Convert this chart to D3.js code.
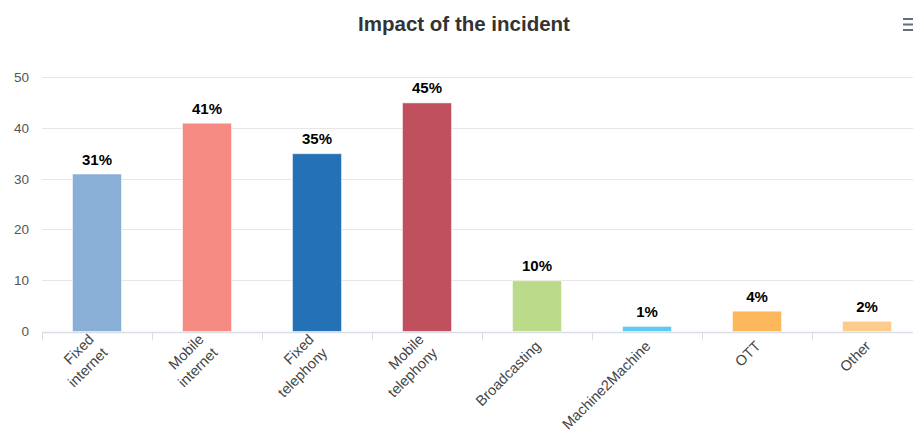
<!DOCTYPE html>
<html>
<head>
<meta charset="utf-8">
<script src="https://cdn.jsdelivr.net/npm/d3@7"></script>
<style>
  body { margin: 0; background: #fff; }
  svg { display: block; font-family: "Liberation Sans", Arial, sans-serif; }
</style>
</head>
<body>
<div id="chart"></div>
<script>
// data
var categories = ["Fixed internet", "Mobile internet", "Fixed telephony", "Mobile telephony",
                  "Broadcasting", "Machine2Machine", "OTT", "Other"];
var labelLines = [["Fixed", "internet"], ["Mobile", "internet"], ["Fixed", "telephony"], ["Mobile", "telephony"],
                  ["Broadcasting"], ["Machine2Machine"], ["OTT"], ["Other"]];
var values = [31, 41, 35, 45, 10, 1, 4, 2];
var barColors = ["#8aafd6", "#f58b82", "#2472b5", "#c1505f", "#bcdb8a", "#5dcaf0", "#fdb85c", "#fecb8c"];
var yTicks = [0, 10, 20, 30, 40, 50];

var width = 913, height = 432;
var margin = {top: 77, left: 42, bottom: 101};

var svg = d3.select("#chart").append("svg")
    .attr("width", width)
    .attr("height", height);

// plot runs past the right edge like the original (cut off)
var x = d3.scaleBand()
    .domain(categories)
    .range([margin.left, margin.left + 110 * categories.length])
    .paddingInner(0)
    .paddingOuter(0);

var y = d3.scaleLinear()
    .domain([0, 50])
    .range([height - margin.bottom, margin.top]);

// title
svg.append("text")
    .attr("x", 464)
    .attr("y", 31)
    .attr("text-anchor", "middle")
    .attr("font-size", "20.5px")
    .attr("font-weight", "bold")
    .attr("fill", "#333333")
    .text("Impact of the incident");

// menu icon
[19, 24.5, 30].forEach(function(yy) {
    svg.append("rect")
        .attr("x", 903).attr("y", yy - 1)
        .attr("width", 12).attr("height", 2)
        .attr("fill", "#666d80");
});

// grid lines
svg.append("g")
    .selectAll("line")
    .data(yTicks.slice(1))
    .enter().append("line")
    .attr("x1", margin.left)
    .attr("x2", width)
    .attr("y1", function(d) { return Math.round(y(d)) + 0.5; })
    .attr("y2", function(d) { return Math.round(y(d)) + 0.5; })
    .attr("stroke", "#e6e6e6")
    .attr("stroke-width", 1);

// y axis labels
svg.append("g")
    .selectAll("text")
    .data(yTicks)
    .enter().append("text")
    .attr("x", 29)
    .attr("y", function(d) { return y(d) + 5; })
    .attr("text-anchor", "end")
    .attr("font-size", "13.5px")
    .attr("fill", "#555555")
    .text(function(d) { return d; });

// bars
svg.append("g")
    .selectAll("rect")
    .data(values)
    .enter().append("rect")
    .attr("x", function(d, i) { return x(categories[i]) + 30.5; })
    .attr("y", function(d) { return y(d) + 0.5; })
    .attr("width", 49)
    .attr("height", function(d) { return y(0) - y(d); })
    .attr("fill", function(d, i) { return barColors[i]; })
    .attr("stroke", "#ffffff")
    .attr("stroke-opacity", 0.5)
    .attr("stroke-width", 1);

// x axis line and ticks
var axisY = Math.round(y(0)) + 1.5;
svg.append("line")
    .attr("x1", margin.left).attr("x2", width)
    .attr("y1", axisY).attr("y2", axisY)
    .attr("stroke", "#d8dde6")
    .attr("stroke-width", 1.5);

svg.append("g")
    .selectAll("line")
    .data(categories)
    .enter().append("line")
    .attr("x1", function(d) { return x(d) + 0.5; })
    .attr("x2", function(d) { return x(d) + 0.5; })
    .attr("y1", axisY)
    .attr("y2", axisY + 8)
    .attr("stroke", "#d8dde6");

// data labels
svg.append("g")
    .selectAll("text")
    .data(values)
    .enter().append("text")
    .attr("x", function(d, i) { return x(categories[i]) + x.bandwidth() / 2; })
    .attr("y", function(d) { return y(d) - 9; })
    .attr("text-anchor", "middle")
    .attr("font-size", "15px")
    .attr("font-weight", "bold")
    .attr("fill", "#000000")
    .attr("stroke", "#ffffff")
    .attr("stroke-width", 2)
    .attr("paint-order", "stroke")
    .text(function(d) { return d + "%"; });

// category labels, rotated -45
var labels = svg.append("g")
    .selectAll("text")
    .data(categories)
    .enter().append("text")
    .attr("transform", function(d, i) {
        var cx = x(d) + x.bandwidth() / 2 + 1;
        return "translate(" + cx + "," + (axisY + 11) + ") rotate(-45)";
    })
    .attr("text-anchor", "end")
    .attr("font-size", "14.5px")
    .attr("fill", "#444444");

labels.each(function(d, i) {
    var lines = labelLines[i];
    var t = d3.select(this);
    lines.forEach(function(line, j) {
        t.append("tspan")
            .attr("x", 0)
            .attr("y", (j - (lines.length - 1) / 2) * 19 + 5)
            .text(line);
    });
});
</script>
</body>
</html>
